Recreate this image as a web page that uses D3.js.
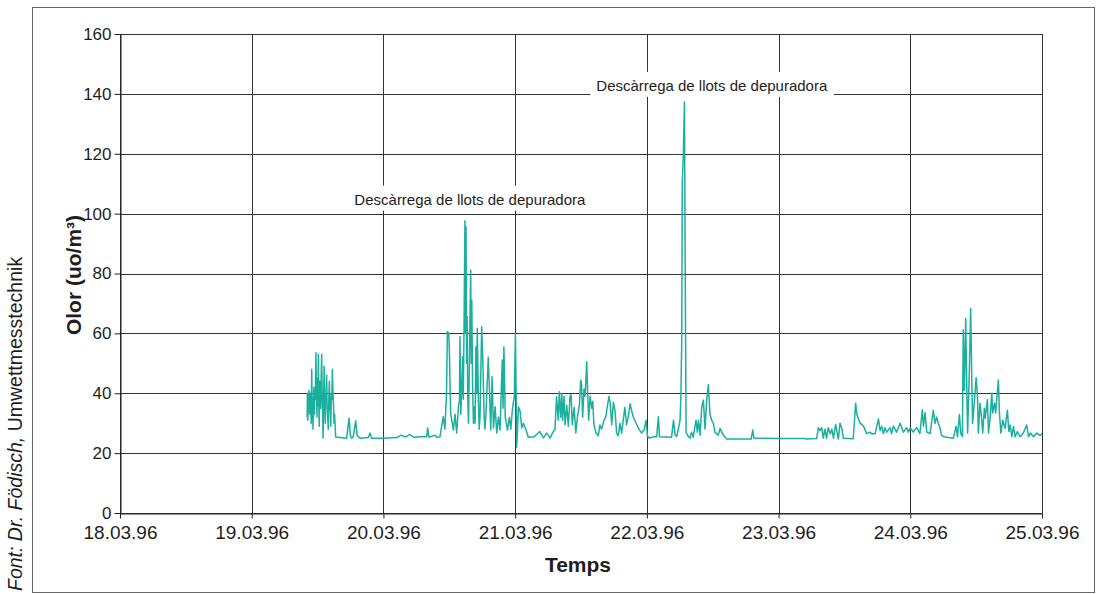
<!DOCTYPE html>
<html>
<head>
<meta charset="utf-8">
<script src="https://cdn.jsdelivr.net/npm/d3@7"></script>
<style>
  body { margin: 0; background: #fff; }
  text { font-family: Arial, "Liberation Sans", sans-serif; fill: #1e1e1e; }
</style>
</head>
<body>
<div id="chart"></div>
<script>
// olor mesurat, [hora del dia, uo/m3], un array per dia
const dia19 = [[10.1,32],[10.15,40],[10.22,31],[10.3,38],[10.38,36],[10.45,41],[10.5,34],[10.6,33],[10.68,40],[10.75,38],[10.85,30],[10.93,48],[11.0,38],[11.1,35],[11.17,28],[11.25,36],[11.33,42],[11.4,33],[11.5,40],[11.6,38],[11.7,53.5],[11.8,40],[11.9,32],[11.97,45],[12.05,36],[12.15,53],[12.22,38],[12.3,29],[12.4,44],[12.5,40],[12.57,35],[12.65,45],[12.75,53],[12.83,40],[12.93,34],[13.0,25],[13.1,38],[13.2,49],[13.3,36],[13.4,30],[13.48,40],[13.55,38],[13.65,46],[13.75,35],[13.85,32],[13.95,28],[14.05,38],[14.15,44],[14.25,35],[14.33,34],[14.42,29],[14.5,40],[14.6,38],[14.7,48],[14.8,40],[14.9,36],[15.0,30],[15.1,33],[15.3,25.4],[17.3,25],[17.75,31.7],[17.95,26],[18.2,25],[18.5,25.5],[18.95,30.8],[19.2,26],[19.45,25.5],[19.75,25],[21.25,25.2],[21.55,26.7],[21.85,25]]

const dia20 = [[0,25],[2.5,25.2],[3.2,26],[4,25.4],[4.8,26.2],[5.5,25.3],[6.7,25.5],[7.9,25.5],[8.05,28.4],[8.3,25.3],[9.4,26],[9.7,25.3],[10.3,25.5],[10.9,32.2],[11.2,28],[11.5,40],[11.65,60.6],[11.9,60],[12.0,55],[12.25,33.4],[12.45,31],[12.75,27.7],[13.05,33],[13.35,26.7],[13.65,35],[13.85,37.7],[13.95,58.9],[14.1,33],[14.25,41],[14.45,52.2],[14.55,38],[14.7,64.5],[14.85,97.6],[14.95,60],[15.05,95.6],[15.15,50],[15.25,65.6],[15.35,40],[15.5,30],[15.65,48.9],[15.9,81.2],[16.0,50],[16.1,71],[16.25,42.2],[16.4,30],[16.55,35.5],[16.7,30],[16.85,55.5],[17.0,40],[17.1,61.7],[17.3,37.7],[17.45,28],[17.6,32.2],[17.9,62.2],[18.1,52],[18.35,32],[18.5,28],[18.7,34],[19.1,52],[19.3,42],[19.55,27.7],[19.8,45.5],[20.05,28.4],[20.35,35.5],[20.65,26.7],[20.95,32],[21.25,27.7],[21.65,51.1],[21.8,35],[21.95,55.5],[22.2,32],[22.6,27.7],[22.95,32],[23.2,28],[23.55,35.5],[23.85,38.8]]

const dia21 = [[0.05,60],[0.2,36.6],[0.28,22],[0.6,35.5],[0.9,34],[1.2,28.4],[1.5,30],[2.0,27.7],[2.4,25.3],[3.5,25.5],[4.5,27.2],[4.85,26.1],[5.15,25.1],[5.75,26.7],[6.35,25.1],[6.95,27.2],[7.25,27.8],[7.55,38.9],[7.85,31],[8.05,40.5],[8.3,32],[8.5,40],[8.65,31],[8.9,39],[9.1,29.5],[9.4,36],[9.7,29],[10.0,39],[10.2,39.5],[10.4,29.5],[10.75,35.3],[11.05,26.7],[11.35,32],[11.7,36],[11.95,44.4],[12.1,43],[12.3,32],[12.55,41.4],[12.75,39],[13.05,50.5],[13.2,41],[13.4,31],[13.65,39],[13.95,35],[14.15,37.3],[14.35,29.5],[14.75,26.7],[15.15,25.8],[15.45,29.4],[15.75,28],[16.2,31],[16.5,32],[16.85,36.1],[17.1,39],[17.3,37],[17.6,29.5],[17.9,37],[18.2,34],[18.5,26.7],[18.8,25.8],[19.1,30],[19.4,26.7],[19.7,31],[20.0,35.3],[20.3,29.5],[20.6,32],[20.95,36.5],[21.25,34],[21.55,32],[22.05,30],[22.45,28.4],[23.05,26.7],[23.5,27.8],[23.85,31]]

const dia22 = [[0.1,25.8],[0.45,25],[1.2,25.5],[1.8,25.5],[2.1,32.2],[2.3,25.5],[4.5,25.3],[4.85,31],[5.15,26],[5.45,25.6],[5.75,28.2],[6.05,31],[6.2,38.9],[6.35,56.7],[6.45,110],[6.65,120],[6.85,137.4],[7.0,77.8],[7.15,26.9],[7.55,25.6],[7.85,25],[8.15,27],[8.45,25.3],[8.95,31],[9.2,27],[9.4,31],[9.7,26],[10.0,35.5],[10.3,37.7],[10.6,28],[10.9,37.7],[11.2,42.8],[11.5,33],[11.8,31],[12.1,30],[12.4,27],[13.0,26],[13.35,28.2],[13.65,27],[13.95,26],[14.55,24.7],[19.0,24.7],[19.3,27.7],[19.5,25]]

const dia23 = [[0,24.9],[4.8,24.9],[5.1,24.7],[6.95,24.9],[7.25,28.5],[7.55,27.5],[7.85,28.5],[8.15,25],[8.45,28],[8.75,25],[9.05,28.5],[9.4,26.5],[9.7,28],[10.0,25],[10.4,29.6],[10.6,27.5],[10.9,24.7],[11.2,30],[11.5,28.5],[11.8,25],[13.6,24.8],[14.05,36.7],[14.25,33],[14.85,30],[15.45,29.1],[16.05,26.5],[16.65,27],[16.95,26.5],[17.6,26.5],[18.2,31.4],[18.5,27.5],[18.8,29],[19.1,26.5],[19.4,28.5],[19.7,27],[20.3,28.5],[20.6,26.5],[20.9,29],[21.5,27],[22.15,30],[22.75,27],[23.35,28.5],[23.65,27]]

const dia24 = [[0,28.5],[0.55,27],[1.15,28.5],[1.75,26.5],[2.2,34.5],[2.4,29],[2.7,33.5],[3.0,27],[3.6,26.5],[4.2,34.3],[4.5,30],[4.8,32],[5.1,30],[5.4,28.5],[5.7,26],[6.05,25.5],[6.95,25.2],[7.85,25],[8.35,29],[8.6,25.5],[8.95,32.9],[9.2,26.5],[9.5,25.5],[9.65,61.1],[9.85,41],[10.1,65],[10.3,41],[10.45,26.7],[10.75,46.7],[11.0,68.4],[11.25,40],[11.35,29.9],[11.7,37.7],[12.0,45.3],[12.25,38.8],[12.4,26.7],[12.7,36.7],[13.0,31.7],[13.2,26.7],[13.5,35],[13.65,31.7],[14.05,37.8],[14.25,26.7],[14.55,32],[14.85,40],[15.0,33.4],[15.35,36.7],[15.55,33.4],[16.05,44.4],[16.25,33.4],[16.5,26.7],[16.85,31],[17.25,28.3],[17.7,34.3],[17.95,27.2],[18.2,29.4],[18.5,25.5],[18.8,28.9],[19.1,25.5],[19.5,27.2],[20.0,25.5],[20.6,26.7],[21.2,29.4],[21.55,25.5],[21.85,26.7],[22.45,25.5],[23.05,26.7],[23.65,25.9],[24,26.5]]

const yTicks = [0, 20, 40, 60, 80, 100, 120, 140, 160]
const notaText = 'Descàrrega de llots de depuradora'
const notes = [
  { t: new Date(1996, 2, 20, 15, 45), v: 103 },
  { t: new Date(1996, 2, 22, 11, 50), v: 141 }
]

const dies = [[19, dia19], [20, dia20], [21, dia21], [22, dia22], [23, dia23], [24, dia24]]
let serie = []
for (let [dia, punts] of dies) {
  const base = new Date(1996, 2, dia).getTime()
  for (let p of punts) {
    serie.push({ t: new Date(base + p[0] * 3600000), v: p[1] })
  }
}

const w = 1096
const h = 594
const mLeft = 120, mRight = 1042, mTop = 34, mBottom = 513

const xScale = d3.scaleTime()
                .domain([new Date(1996, 2, 18), new Date(1996, 2, 25)])
                .range([mLeft, mRight])

const yScale = d3.scaleLinear()
                .domain([0, 160])
                .range([mBottom, mTop])

const svg = d3.select('#chart')
            .append('svg')
            .attr('width', w)
            .attr('height', h)

// marc exterior
svg.append('rect')
    .attr('x', 32.5)
    .attr('y', 7.5)
    .attr('width', 1062)
    .attr('height', 585)
    .attr('fill', 'none')
    .attr('stroke', '#666')

const px = v => Math.round(v) + 0.5
const dayTicks = xScale.ticks(d3.timeDay.every(1))

svg.append('g')
    .selectAll('line')
    .data(yTicks)
    .enter()
    .append('line')
    .attr('x1', mLeft)
    .attr('x2', mRight)
    .attr('y1', d => px(yScale(d)))
    .attr('y2', d => px(yScale(d)))
    .attr('stroke', '#333')

svg.append('g')
    .selectAll('line')
    .data(dayTicks)
    .enter()
    .append('line')
    .attr('x1', d => px(xScale(d)))
    .attr('x2', d => px(xScale(d)))
    .attr('y1', mTop)
    .attr('y2', mBottom)
    .attr('stroke', '#333')

// etiquetes amb fons blanc
const notaG = svg.append('g')
notes.forEach(n => {
  const g = notaG.append('g')
  const t = g.append('text')
            .attr('x', xScale(n.t))
            .attr('y', yScale(n.v))
            .attr('text-anchor', 'middle')
            .style('font-size', '15px')
            .text(notaText)
  const b = t.node().getBBox()
  g.insert('rect', 'text')
    .attr('x', b.x - 6)
    .attr('y', b.y - 5)
    .attr('width', b.width + 12)
    .attr('height', b.height + 8)
    .attr('fill', '#fff')
})

svg.append('path')
    .datum(serie)
    .attr('fill', 'none')
    .attr('stroke', '#1bb09d')
    .attr('stroke-width', 1.5)
    .attr('stroke-linejoin', 'round')
    .attr('d', d3.line().x(d => xScale(d.t)).y(d => yScale(d.v)))

const xAxis = d3.axisBottom(xScale)
                .tickValues(dayTicks)
                .tickFormat(d3.timeFormat('%d.%m.%y'))
                .tickSize(5)
                .tickSizeOuter(0)
                .tickPadding(7)

const yAxis = d3.axisLeft(yScale)
                .tickValues(yTicks)
                .tickSize(6)
                .tickSizeOuter(0)
                .tickPadding(3)

const gx = svg.append('g')
    .attr('transform', `translate(0, ${px(mBottom)})`)
    .call(xAxis)
gx.selectAll('text').style('font-size', '19px').attr('fill', '#1e1e1e')

const gy = svg.append('g')
    .attr('transform', `translate(${px(mLeft)}, 0)`)
    .call(yAxis)
gy.selectAll('text').style('font-size', '17px').attr('fill', '#1e1e1e')

svg.selectAll('.domain, .tick line').attr('stroke', '#222')

svg.append('text')
    .attr('x', 578)
    .attr('y', 572)
    .attr('text-anchor', 'middle')
    .style('font-size', '21px')
    .style('font-weight', 'bold')
    .text('Temps')

svg.append('text')
    .attr('transform', 'translate(81, 275) rotate(-90)')
    .attr('text-anchor', 'middle')
    .style('font-size', '21px')
    .style('font-weight', 'bold')
    .text('Olor (uo/m³)')

const font = svg.append('text')
    .attr('transform', 'translate(22, 591) rotate(-90)')
    .style('font-size', '19.5px')
    .attr('fill', '#333')
font.append('tspan').style('font-style', 'italic').text('Font: Dr. Födisch,')
font.append('tspan').text(' Umwettmesstechnik')
</script>
</body>
</html>
